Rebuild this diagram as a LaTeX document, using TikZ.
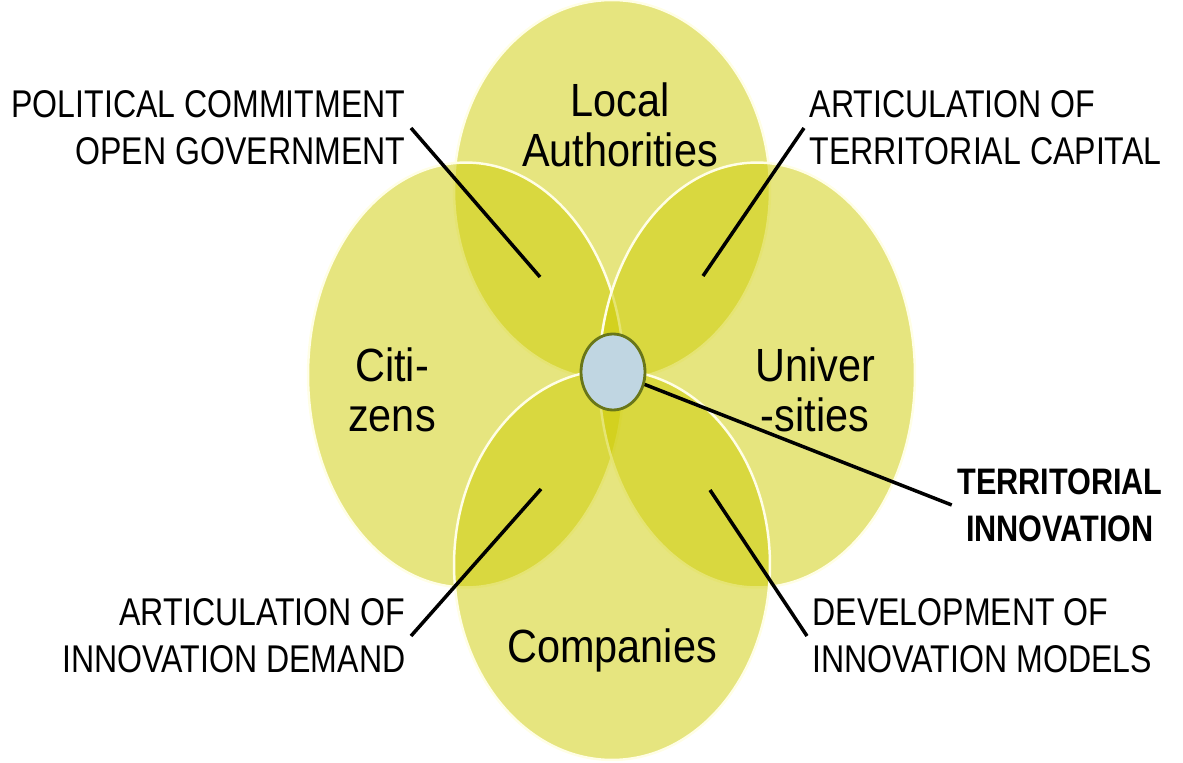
\documentclass[tikz,border=0pt]{standalone}
\usepackage{fontspec}
\setmainfont{Liberation Sans}
\newfontfamily\tallsans[FakeStretch=0.83]{Liberation Sans}
\newfontfamily\actorsans[FakeStretch=0.89]{Liberation Sans}
\usetikzlibrary{shapes.geometric, positioning}
\definecolor{petalfill}{RGB}{205,203,0}
\definecolor{hubfill}{RGB}{192,214,226}
\definecolor{hubline}{RGB}{105,118,25}
\tikzstyle{line} = [draw, line width=2pt]

\begin{document}
\begin{tikzpicture}[x=0.02cm, y=-0.02cm]
  % Define styles
  \tikzstyle{petal} = [ellipse, inner sep=0pt, fill=petalfill, fill opacity=0.5, draw=white!90!yellow, line width=1.4pt]
  \tikzstyle{hub} = [ellipse, inner sep=0pt, minimum width=1.28cm, minimum height=1.52cm, fill=hubfill, draw=hubline, line width=1.6pt]
  \tikzstyle{actor} = [align=center, font=\actorsans\fontsize{26.5}{28.5}\selectfont]
  \tikzstyle{role} = [inner sep=3pt, font=\tallsans\fontsize{22}{26.7}\selectfont]

  \useasboundingbox (0,0) rectangle (1183,763);

  % Place nodes
  \node [petal, minimum width=6.32cm, minimum height=7.6cm] (local) at (612,190) {};
  \node [petal, minimum width=6.32cm, minimum height=8.5cm] (citizens) at (466,375) {};
  \node [petal, minimum width=6.32cm, minimum height=8.5cm] (univ) at (757,375) {};
  \node [petal, minimum width=6.32cm, minimum height=7.8cm] (companies) at (612,565) {};
  \node [hub] (hub) at (613,372) {};

  \node [actor] (localtxt) at (620,125) {Local\\Authorities};
  \node [actor] (citizentxt) at (392,390) {Citi-\\zens};
  \node [actor] (univtxt) at (815,390) {Univer\\-sities};
  \node [actor] (companytxt) at (612,650) {Companies};

  \node [role, align=right, anchor=east] (political) at (411,128) {POLITICAL COMMITMENT\\OPEN GOVERNMENT};
  \node [role, align=left, anchor=west] (capital) at (804,128) {ARTICULATION OF\\TERRITORIAL CAPITAL};
  \node [role, align=center, font=\tallsans\fontsize{21}{26.7}\selectfont\bfseries] (innovation) at (1060,505) {TERRITORIAL\\INNOVATION};
  \node [role, align=right, anchor=east] (demand) at (411,636) {ARTICULATION OF\\INNOVATION DEMAND};
  \node [role, align=left, anchor=west] (models) at (807,636) {DEVELOPMENT OF\\INNOVATION MODELS};

  \coordinate (lensLT) at (540,277);
  \coordinate (lensRT) at (703,276);
  \coordinate (lensLB) at (541,489);
  \coordinate (lensRB) at (710,490);

  % Draw edges
  \path [line] (political.east) -- (lensLT);
  \path [line] (capital.west) -- (lensRT);
  \path [line] (demand.east) -- (lensLB);
  \path [line] (models.west) -- (lensRB);
  \path [line] (hub) -- (innovation.west);

\end{tikzpicture}
\end{document}
